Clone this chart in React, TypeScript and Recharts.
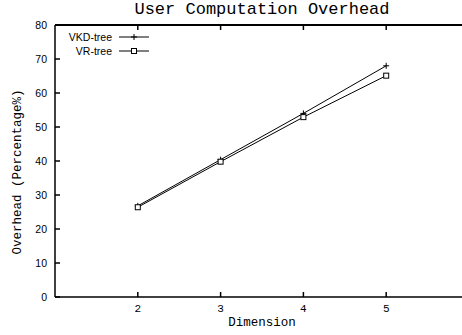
import React from 'react';
import { LineChart, Line, XAxis, YAxis, CartesianGrid } from 'recharts';

const dimensions = [2, 3, 4, 5];
const vkdTree = [26.8, 40.4, 54.0, 68.0];
const vrTree = [26.4, 39.8, 52.9, 65.1];
const yTicks = [0, 10, 20, 30, 40, 50, 60, 70, 80];

const data = dimensions.map((d, i) => ({ dim: d, vkd: vkdTree[i], vr: vrTree[i] }));

const series = [
    { key: 'vkd', name: 'VKD-tree', marker: 'plus' },
    { key: 'vr', name: 'VR-tree', marker: 'square' },
];

const MONO = '"Liberation Mono", monospace';
const SANS = '"Liberation Sans", Arial, sans-serif';

const PlusDot = (props: any) => {
    const { cx, cy } = props;
    if (cx == null || cy == null) return null;
    return (
        <g stroke="#000" strokeWidth={1}>
            <line x1={cx - 3} y1={cy} x2={cx + 3} y2={cy} />
            <line x1={cx} y1={cy - 3} x2={cx} y2={cy + 3} />
        </g>
    );
};

const SquareDot = (props: any) => {
    const { cx, cy } = props;
    if (cx == null || cy == null) return null;
    return <rect x={cx - 2.5} y={cy - 2.5} width={5} height={5} fill="#fff" stroke="#000" strokeWidth={1} />;
};

const BottomTick = (props: any) => {
    const { x, y, payload } = props;
    return (
        <g>
            <line x1={x} y1={297} x2={x} y2={292} stroke="#000" strokeWidth={1.5} />
            <text x={x} y={y + 15} textAnchor="middle" fontFamily={MONO} fontSize={11} fill="#000">
                {payload.value}
            </text>
        </g>
    );
};

const TopTick = (props: any) => {
    const { x } = props;
    return <line x1={x} y1={25} x2={x} y2={30} stroke="#000" strokeWidth={1.5} />;
};

const LeftTick = (props: any) => {
    const { x, y, payload } = props;
    return (
        <g>
            <line x1={55} y1={y} x2={60} y2={y} stroke="#000" strokeWidth={1.5} />
            <text x={x - 8} y={y + 4} textAnchor="end" fontFamily={SANS} fontSize={10.5} fill="#000">
                {payload.value}
            </text>
        </g>
    );
};

export default function App() {
    return (
        <div style={{ position: 'fixed', left: 0, top: 0, width: 462, height: 335, overflow: 'hidden', background: '#fff' }}>
            <LineChart width={480} height={335} data={data} margin={{ top: 24, right: 11, left: 0, bottom: 0 }}>
                <CartesianGrid vertical={false} horizontalValues={[80]} stroke="#000" strokeWidth={2} strokeDasharray="0" />
                <XAxis
                    dataKey="dim"
                    type="number"
                    domain={[1, 6]}
                    ticks={dimensions}
                    height={38}
                    tickLine={false}
                    tickSize={0}
                    tickMargin={0}
                    axisLine={{ stroke: '#000', strokeWidth: 1.5 }}
                    tick={<BottomTick />}
                />
                <XAxis
                    xAxisId="top"
                    orientation="top"
                    dataKey="dim"
                    type="number"
                    domain={[1, 6]}
                    ticks={dimensions}
                    height={1}
                    tickLine={false}
                    tickSize={0}
                    tickMargin={0}
                    axisLine={{ stroke: '#000', strokeWidth: 2 }}
                    tick={<TopTick />}
                />
                <YAxis
                    type="number"
                    domain={[0, 80]}
                    ticks={yTicks}
                    width={55}
                    tickLine={false}
                    tickSize={0}
                    tickMargin={0}
                    axisLine={{ stroke: '#000', strokeWidth: 1.5 }}
                    tick={<LeftTick />}
                />
                <Line dataKey="vkd" name="VKD-tree" stroke="#000" strokeWidth={1} dot={<PlusDot />} isAnimationActive={false} />
                <Line dataKey="vr" name="VR-tree" stroke="#000" strokeWidth={1} dot={<SquareDot />} isAnimationActive={false} />
            </LineChart>
            <div style={{ position: 'absolute', left: 0, top: 0, width: 524, textAlign: 'center', fontFamily: MONO, fontSize: 17, color: '#000' }}>
                User Computation Overhead
            </div>
            <div style={{ position: 'absolute', left: 55, top: 316, width: 414, textAlign: 'center', fontFamily: MONO, fontSize: 12.5, color: '#000' }}>
                Dimension
            </div>
            <div
                style={{
                    position: 'absolute',
                    left: 18,
                    top: 172,
                    transform: 'translate(-50%, -50%) rotate(-90deg)',
                    whiteSpace: 'nowrap',
                    fontFamily: MONO,
                    fontSize: 12.5,
                    color: '#000',
                }}
            >
                Overhead (Percentage%)
            </div>
            <svg style={{ position: 'absolute', left: 0, top: 0 }} width={160} height={60}>
                {series.map((s, i) => {
                    const y = 37 + i * 14;
                    return (
                        <g key={s.key}>
                            <text x={112} y={y + 4} textAnchor="end" fontFamily={SANS} fontSize={10.5} fill="#000">
                                {s.name}
                            </text>
                            <line x1={119} y1={y} x2={149} y2={y} stroke="#000" />
                            {s.marker === 'plus' ? <PlusDot cx={134} cy={y} /> : <SquareDot cx={134} cy={y} />}
                        </g>
                    );
                })}
            </svg>
        </div>
    );
}
